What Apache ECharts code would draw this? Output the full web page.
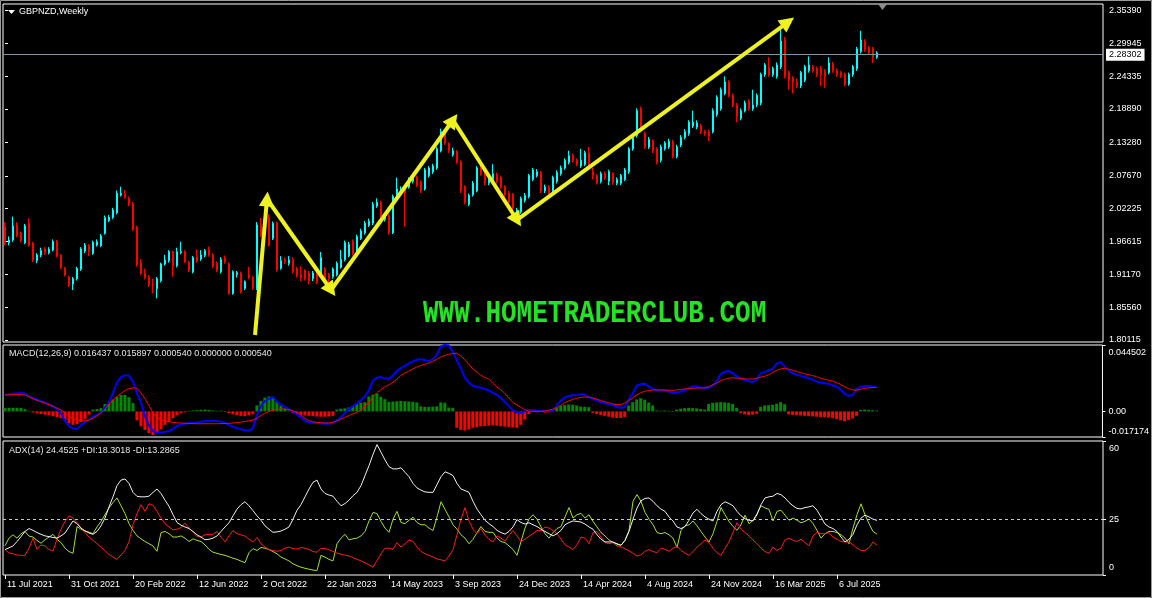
<!DOCTYPE html>
<html><head><meta charset="utf-8">
<script src="https://cdn.jsdelivr.net/npm/echarts@6/dist/echarts.min.js"></script>
<style>html,body{margin:0;padding:0;background:#000;}#c{width:1152px;height:598px;}</style>
</head><body><div id="c"></div>
<script>
const symbolName = 'GBPNZD,Weekly';
const startDate = '2021-07-11';
const futureSlots = 56;

const opens = [
1.9914,1.9645,1.9690,1.9942,1.9802,1.9645,1.9970,1.9634,1.9343,1.9438,
1.9539,1.9477,1.9522,1.9673,1.9438,1.9214,1.9063,1.8951,1.9041,1.9198,
1.9505,1.9589,1.9466,1.9606,1.9595,1.9802,2.0014,2.0070,2.0149,2.0445,
2.0462,2.0389,2.0294,1.9903,1.9298,1.9131,1.9063,1.8951,1.8873,1.9007,
1.9287,1.9343,1.9489,1.9259,1.9477,1.9494,1.9309,1.9158,1.9410,1.9371,
1.9432,1.9522,1.9438,1.9298,1.9158,1.9382,1.9287,1.8795,1.9114,1.9131,
1.8879,1.9102,1.9058,1.8879,1.9931,1.9774,2.0076,1.9718,1.9970,1.9214,
1.9354,1.9298,1.9365,1.9214,1.9110,1.9170,1.9138,1.9042,1.9138,1.9106,
1.9202,1.9106,1.9074,1.9106,1.9234,1.9362,1.9426,1.9669,1.9490,1.9714,
1.9810,1.9938,1.9971,2.0259,2.0323,2.0035,2.0099,1.9810,2.0419,2.0483,
2.0547,2.0579,2.0675,2.0739,2.0656,2.0547,2.0771,2.0835,2.0899,2.1188,
2.1476,2.1297,2.1124,2.1169,2.0996,2.0579,2.0291,2.0451,2.0515,2.0899,
2.0835,2.0643,2.0707,2.0783,2.0739,2.0579,2.0483,2.0451,2.0131,2.0163,
2.0355,2.0419,2.0707,2.0771,2.0822,2.0515,2.0579,2.0515,2.0675,2.0803,
2.0899,2.0996,2.1105,2.1028,2.0931,2.0963,2.1156,2.0835,2.0771,2.0675,
2.0803,2.0675,2.0803,2.0643,2.0643,2.0707,2.0835,2.1220,2.1444,2.1893,
2.1476,2.1252,2.1348,2.1220,2.1028,2.1220,2.1252,2.1335,2.1092,2.1284,
2.1412,2.1476,2.1604,2.1585,2.1604,2.1508,2.1508,2.1508,2.1797,2.1893,
2.2149,2.2341,2.2117,2.1957,2.1733,2.1861,2.2021,2.1893,2.1957,2.1989,
2.2469,2.2578,2.2469,2.2437,2.2597,2.3046,2.2501,2.2405,2.2341,2.2277,
2.2373,2.2533,2.2597,2.2565,2.2578,2.2533,2.2501,2.2642,2.2533,2.2501,
2.2469,2.2309,2.2469,2.2565,2.2854,2.3027,2.2918,2.2899,2.2758];

const closes = [
1.9634,1.9690,1.9925,1.9774,1.9690,1.9925,1.9606,1.9354,1.9438,1.9511,
1.9477,1.9533,1.9662,1.9421,1.9231,1.9102,1.8935,1.9041,1.9214,1.9539,
1.9606,1.9494,1.9651,1.9662,1.9757,2.0065,2.0070,2.0194,2.0473,2.0473,
2.0406,2.0294,1.9869,1.9270,1.9131,1.9058,1.8935,1.8935,1.9041,1.9287,
1.9354,1.9494,1.9253,1.9494,1.9494,1.9326,1.9186,1.9393,1.9337,1.9438,
1.9511,1.9438,1.9253,1.9186,1.9365,1.9326,1.8795,1.9158,1.9142,1.8823,
1.8991,1.9058,1.8879,1.9942,1.9774,2.0076,1.9606,1.9970,1.9186,1.9343,
1.9326,1.9354,1.9158,1.9091,1.9060,1.9042,1.9010,1.9138,1.8978,1.9394,
1.9010,1.9042,1.9202,1.9298,1.9362,1.9650,1.9618,1.9458,1.9746,1.9842,
1.9971,2.0003,2.0291,2.0323,2.0035,2.0099,1.9810,2.0419,2.0547,2.0547,
2.0483,2.0707,2.0739,2.0611,2.0515,2.0867,2.0899,2.0931,2.1220,2.1508,
2.1316,2.1188,2.1188,2.0996,2.0515,2.0323,2.0438,2.0643,2.0899,2.0803,
2.0643,2.0739,2.0803,2.0675,2.0579,2.0451,2.0323,2.0227,2.0195,2.0387,
2.0438,2.0771,2.0867,2.0835,2.0515,2.0579,2.0451,2.0739,2.0822,2.0899,
2.1028,2.1105,2.1028,2.0963,2.1028,2.1156,2.0931,2.0771,2.0656,2.0803,
2.0739,2.0835,2.0656,2.0707,2.0771,2.0867,2.1220,2.1412,2.1861,2.1540,
2.1252,2.1380,2.1188,2.0996,2.1252,2.1316,2.1348,2.1092,2.1252,2.1412,
2.1508,2.1668,2.1668,2.1655,2.1508,2.1476,2.1425,2.1861,2.2085,2.2213,
2.2341,2.2117,2.1957,2.1765,2.1861,2.1989,2.1893,2.1957,2.2117,2.2469,
2.2629,2.2469,2.2565,2.2629,2.3027,2.2437,2.2373,2.2341,2.2277,2.2501,
2.2597,2.2629,2.2533,2.2469,2.2469,2.2437,2.2661,2.2533,2.2469,2.2450,
2.2309,2.2469,2.2597,2.2899,2.3046,2.2886,2.2834,2.2758,2.28302];

const lows = [
1.9600,1.9600,1.9660,1.9740,1.9650,1.9620,1.9580,1.9320,1.9300,1.9400,
1.9440,1.9450,1.9500,1.9400,1.9200,1.9080,1.8900,1.8851,1.9010,1.9170,
1.9470,1.9420,1.9440,1.9580,1.9570,1.9780,1.9990,2.0040,2.0120,2.0420,
2.0380,2.0260,1.9840,1.9240,1.9100,1.9030,1.8900,1.8795,1.8711,1.8980,
1.9260,1.9310,1.9074,1.9230,1.9450,1.9300,1.9150,1.9130,1.9310,1.9340,
1.9400,1.9410,1.9220,1.9150,1.9130,1.9290,1.8770,1.8770,1.9060,1.8790,
1.8850,1.9030,1.8850,1.8850,1.9740,1.9750,1.9580,1.9690,1.9160,1.9190,
1.9290,1.9260,1.9130,1.9060,1.9000,1.9010,1.8946,1.9000,1.8950,1.9080,
1.8980,1.8946,1.9040,1.9080,1.9210,1.9330,1.9400,1.9430,1.9460,1.9690,
1.9780,1.9910,1.9940,2.0230,2.0000,2.0000,1.9780,1.9790,2.0390,2.0450,
1.9907,2.0550,2.0640,2.0580,2.0480,2.0520,2.0740,2.0800,2.0870,2.1160,
2.1290,2.1150,2.1090,2.0970,2.0480,2.0290,2.0260,2.0420,2.0490,2.0770,
2.0610,2.0610,2.0680,2.0640,2.0550,2.0420,2.0290,2.0190,2.0067,2.0130,
2.0320,2.0390,2.0680,2.0740,2.0480,2.0480,2.0420,2.0480,2.0640,2.0770,
2.0870,2.0960,2.0990,2.0930,2.0900,2.0930,2.0900,2.0707,2.0620,2.0640,
2.0700,2.0611,2.0620,2.0610,2.0610,2.0680,2.0800,2.1190,2.1410,2.1510,
2.1220,2.1220,2.1150,2.0960,2.0990,2.1190,2.1220,2.1060,2.1060,2.1250,
2.1380,2.1440,2.1570,2.1550,2.1470,2.1440,2.1348,2.1480,2.1760,2.1860,
2.2120,2.2090,2.1920,2.1668,2.1700,2.1830,2.1860,2.1860,2.1920,2.1950,
2.2430,2.2430,2.2430,2.2400,2.2560,2.2400,2.2213,2.2149,2.2240,2.2240,
2.2340,2.2500,2.2500,2.2430,2.2277,2.2245,2.2470,2.2500,2.2430,2.2410,
2.2270,2.2280,2.2430,2.2530,2.2820,2.2850,2.2800,2.2661,2.2730];

const highs = [
1.9990,1.9750,2.0082,1.9990,1.9830,1.9960,2.0054,1.9660,1.9470,1.9560,
1.9570,1.9570,1.9700,1.9690,1.9450,1.9240,1.9090,1.9070,1.9240,1.9570,
1.9640,1.9620,1.9680,1.9700,1.9790,2.0100,2.0110,2.0230,2.0520,2.0585,
2.0530,2.0420,2.0330,1.9930,1.9370,1.9210,1.9100,1.9040,1.9070,1.9310,
1.9440,1.9520,1.9510,1.9560,1.9662,1.9520,1.9340,1.9420,1.9530,1.9520,
1.9540,1.9580,1.9470,1.9330,1.9400,1.9430,1.9310,1.9180,1.9170,1.9160,
1.9010,1.9240,1.9090,1.9990,2.0060,2.0194,2.0120,2.0000,2.0000,1.9420,
1.9400,1.9420,1.9400,1.9240,1.9250,1.9200,1.9170,1.9170,1.9160,1.9490,
1.9230,1.9140,1.9230,1.9330,1.9522,1.9680,1.9660,1.9700,1.9780,1.9880,
2.0010,2.0050,2.0330,2.0387,2.0350,2.0140,2.0130,2.0450,2.0739,2.0590,
2.0580,2.0740,2.0780,2.0770,2.0690,2.0900,2.0930,2.0970,2.1250,2.1560,
2.1510,2.1330,2.1240,2.1200,2.1030,2.0610,2.0470,2.0680,2.0930,2.0940,
2.0870,2.0780,2.0963,2.0820,2.0770,2.0610,2.0510,2.0480,2.0230,2.0420,
2.0480,2.0800,2.0900,2.0880,2.0850,2.0620,2.0610,2.0770,2.0860,2.0940,
2.1060,2.1188,2.1140,2.1060,2.1220,2.1190,2.1252,2.0899,2.0800,2.0840,
2.0840,2.0870,2.0830,2.0740,2.0800,2.0900,2.1250,2.1450,2.1900,2.1930,
2.1510,2.1420,2.1380,2.1250,2.1290,2.1350,2.1390,2.1370,2.1290,2.1450,
2.1550,2.1700,2.1861,2.1700,2.1640,2.1540,2.1540,2.1900,2.2120,2.2250,
2.2437,2.2370,2.2150,2.1990,2.1900,2.2030,2.2050,2.2213,2.2150,2.2500,
2.2660,2.2758,2.2600,2.2670,2.3250,2.3100,2.2530,2.2440,2.2400,2.2530,
2.2630,2.2770,2.2630,2.2600,2.2610,2.2560,2.2758,2.2680,2.2570,2.2530,
2.2500,2.2500,2.2630,2.2930,2.3200,2.3060,2.2950,2.2930,2.2860];

const macdLine = [
0.0110,0.0115,0.0120,0.0122,0.0123,0.0120,0.0100,0.0088,0.0078,0.0068,
0.0058,0.0046,0.0032,0.0015,-0.0015,-0.0065,-0.0098,-0.0115,-0.0118,-0.0092,
-0.0072,-0.0055,-0.0037,-0.0022,-0.0008,0.0025,0.0062,0.0125,0.0195,0.0230,
0.0243,0.0238,0.0200,0.0120,0.0060,-0.0030,-0.0095,-0.0132,-0.0143,-0.0142,
-0.0138,-0.0131,-0.0118,-0.0098,-0.0088,-0.0082,-0.0080,-0.0078,-0.0074,-0.0070,
-0.0066,-0.0063,-0.0062,-0.0064,-0.0070,-0.0078,-0.0090,-0.0102,-0.0112,-0.0120,
-0.0126,-0.0130,-0.0112,-0.0025,0.0035,0.0068,0.0085,0.0096,0.0065,0.0045,
0.0030,0.0015,0.0000,-0.0020,-0.0040,-0.0062,-0.0076,-0.0078,-0.0078,-0.0080,
-0.0082,-0.0083,-0.0075,-0.0060,-0.0040,-0.0010,0.0015,0.0035,0.0052,0.0075,
0.0100,0.0140,0.0205,0.0225,0.0230,0.0220,0.0218,0.0240,0.0270,0.0290,
0.0305,0.0322,0.0335,0.0347,0.0350,0.0345,0.0337,0.0350,0.0380,0.0435,
0.0445,0.0441,0.0400,0.0340,0.0290,0.0225,0.0192,0.0172,0.0163,0.0158,
0.0150,0.0140,0.0124,0.0110,0.0090,0.0065,0.0035,0.0008,-0.0008,-0.0010,
0.0000,0.0008,0.0008,0.0005,0.0003,0.0002,0.0002,0.0005,0.0040,0.0072,
0.0093,0.0103,0.0108,0.0110,0.0115,0.0112,0.0096,0.0085,0.0073,0.0062,
0.0055,0.0048,0.0043,0.0028,0.0024,0.0028,0.0080,0.0120,0.0172,0.0182,
0.0185,0.0168,0.0150,0.0140,0.0140,0.0142,0.0133,0.0123,0.0125,0.0133,
0.0140,0.0155,0.0168,0.0165,0.0160,0.0157,0.0160,0.0175,0.0200,0.0250,
0.0265,0.0270,0.0255,0.0235,0.0222,0.0210,0.0203,0.0195,0.0215,0.0255,
0.0265,0.0275,0.0285,0.0320,0.0330,0.0300,0.0275,0.0255,0.0245,0.0238,
0.0230,0.0222,0.0212,0.0200,0.0192,0.0188,0.0183,0.0176,0.0165,0.0145,
0.0118,0.0104,0.0110,0.0150,0.0165,0.0168,0.0170,0.0167,0.016437];

const signalLine = [
0.0110,0.0111,0.0112,0.0113,0.0112,0.0110,0.0098,0.0085,0.0074,0.0064,
0.0055,0.0045,0.0035,0.0022,0.0010,-0.0010,-0.0032,-0.0050,-0.0058,-0.0063,
-0.0064,-0.0058,-0.0045,-0.0030,-0.0010,0.0015,0.0050,0.0075,0.0100,0.0120,
0.0140,0.0152,0.0158,0.0155,0.0125,0.0085,0.0040,-0.0010,-0.0040,-0.0055,
-0.0064,-0.0070,-0.0074,-0.0077,-0.0078,-0.0080,-0.0081,-0.0082,-0.0083,-0.0083,
-0.0083,-0.0083,-0.0083,-0.0083,-0.0082,-0.0081,-0.0080,-0.0078,-0.0075,-0.0072,
-0.0068,-0.0064,-0.0058,-0.0045,-0.0028,-0.0012,0.0000,0.0008,0.0014,0.0016,
0.0016,0.0012,0.0004,-0.0008,-0.0025,-0.0045,-0.0062,-0.0070,-0.0074,-0.0076,
-0.0078,-0.0078,-0.0074,-0.0064,-0.0052,-0.0040,-0.0028,-0.0016,-0.0008,0.0010,
0.0035,0.0060,0.0095,0.0125,0.0145,0.0165,0.0178,0.0195,0.0215,0.0240,
0.0258,0.0270,0.0285,0.0298,0.0308,0.0316,0.0324,0.0336,0.0350,0.0364,
0.0375,0.0383,0.0388,0.0390,0.0372,0.0345,0.0315,0.0285,0.0265,0.0243,
0.0228,0.0217,0.0190,0.0165,0.0145,0.0120,0.0090,0.0060,0.0043,0.0028,
0.0012,0.0002,0.0000,0.0000,0.0000,0.0002,0.0008,0.0014,0.0025,0.0040,
0.0058,0.0070,0.0080,0.0088,0.0093,0.0096,0.0096,0.0090,0.0082,0.0072,
0.0065,0.0058,0.0050,0.0045,0.0045,0.0055,0.0072,0.0090,0.0110,0.0125,
0.0135,0.0140,0.0143,0.0144,0.0144,0.0143,0.0142,0.0141,0.0143,0.0147,
0.0150,0.0152,0.0155,0.0156,0.0157,0.0158,0.0165,0.0178,0.0190,0.0205,
0.0215,0.0222,0.0225,0.0223,0.0220,0.0218,0.0217,0.0217,0.0222,0.0230,
0.0235,0.0245,0.0260,0.0275,0.0285,0.0289,0.0283,0.0275,0.0268,0.0260,
0.0252,0.0246,0.0240,0.0232,0.0223,0.0215,0.0208,0.0203,0.0193,0.0180,
0.0165,0.0152,0.0144,0.0142,0.0148,0.0154,0.0158,0.0160,0.015897];

const macdHist = [
0.0022,0.0024,0.0024,0.0024,0.0023,0.0015,0.0004,-0.0008,-0.0012,-0.0018,
-0.0022,-0.0026,-0.0032,-0.0037,-0.0045,-0.0060,-0.0080,-0.0090,-0.0086,-0.0070,
-0.0050,-0.0022,0.0012,0.0016,0.0022,0.0050,0.0060,0.0080,0.0098,0.0110,
0.0110,0.0095,0.0055,-0.0060,-0.0100,-0.0125,-0.0145,-0.0158,-0.0145,-0.0120,
-0.0090,-0.0070,-0.0045,-0.0025,-0.0012,-0.0006,0.0004,0.0006,0.0008,0.0010,
0.0012,0.0010,0.0006,0.0004,0.0005,-0.0004,-0.0012,-0.0020,-0.0026,-0.0030,
-0.0032,-0.0026,-0.0018,0.0040,0.0070,0.0092,0.0100,0.0098,0.0070,0.0040,
0.0020,0.0006,-0.0010,-0.0016,-0.0022,-0.0028,-0.0030,-0.0032,-0.0034,-0.0036,
-0.0036,-0.0034,-0.0030,0.0012,0.0018,0.0020,0.0026,0.0034,0.0052,0.0058,
0.0062,0.0100,0.0112,0.0120,0.0098,0.0082,0.0064,0.0066,0.0068,0.0070,
0.0068,0.0066,0.0064,0.0060,0.0034,0.0030,0.0030,0.0032,0.0034,0.0060,
0.0058,0.0026,0.0024,-0.0110,-0.0125,-0.0128,-0.0122,-0.0110,-0.0106,-0.0100,
-0.0098,-0.0096,-0.0094,-0.0096,-0.0100,-0.0102,-0.0104,-0.0108,-0.0110,-0.0090,
-0.0055,-0.0018,0.0010,-0.0006,0.0004,-0.0008,-0.0006,0.0012,0.0030,0.0038,
0.0042,0.0046,0.0044,0.0040,0.0032,0.0030,0.0028,-0.0010,-0.0018,-0.0024,
-0.0030,-0.0036,-0.0042,-0.0045,-0.0044,-0.0038,0.0040,0.0062,0.0080,0.0088,
0.0078,0.0060,0.0040,0.0006,0.0004,0.0006,0.0004,-0.0004,0.0012,0.0018,
0.0022,0.0024,0.0022,0.0020,0.0016,0.0012,0.0050,0.0058,0.0060,0.0062,
0.0060,0.0058,0.0050,0.0024,-0.0012,-0.0020,-0.0024,-0.0022,-0.0016,0.0030,
0.0040,0.0042,0.0045,0.0052,0.0062,0.0048,-0.0020,-0.0024,-0.0026,-0.0028,
-0.0030,-0.0032,-0.0034,-0.0036,-0.0038,-0.0040,-0.0042,-0.0046,-0.0052,-0.0060,
-0.0066,-0.0058,-0.0048,-0.0030,0.0010,0.0012,0.0010,0.0008,0.00054];

const adxLine = [
11.4,12.2,13.0,15.0,17.2,19.5,20.8,20.0,19.0,18.2,
17.5,17.2,16.8,16.5,17.5,18.8,21.5,24.2,23.0,21.0,
19.8,18.8,18.2,19.5,22.0,25.5,30.5,35.0,40.0,42.5,
43.0,41.0,37.0,35.2,35.0,35.0,35.3,37.0,38.5,36.5,
33.5,30.8,27.0,23.5,22.3,21.5,20.8,19.5,18.0,17.0,
15.8,16.0,16.5,17.5,19.5,21.5,23.4,26.5,29.5,31.5,
32.8,31.0,28.8,26.5,24.5,22.0,20.5,19.1,19.3,19.7,
20.5,21.5,25.0,29.0,31.5,35.0,38.5,41.5,42.5,38.5,
36.5,35.8,35.3,33.0,31.0,32.0,33.5,35.5,37.0,40.0,
44.5,49.0,54.0,58.4,55.0,51.5,48.5,47.5,47.5,48.0,
46.0,44.0,41.0,39.0,38.0,37.2,37.0,37.0,40.5,44.0,
46.2,45.5,44.5,41.0,38.5,37.8,37.0,33.0,29.5,27.0,
24.5,23.0,21.7,20.0,19.0,18.3,19.5,21.5,24.8,23.5,
22.8,23.4,22.5,21.7,20.5,19.5,18.5,17.5,18.5,20.0,
22.5,23.5,24.2,24.0,23.7,22.8,21.5,20.5,18.0,16.0,
14.8,14.8,14.8,14.0,13.3,15.5,19.5,25.0,30.0,33.2,
34.3,34.5,33.0,31.0,29.5,28.5,26.0,24.2,21.5,20.8,
21.7,24.5,27.8,29.4,27.5,26.0,25.0,24.2,28.5,31.5,
32.8,32.0,31.0,28.5,26.5,25.2,24.5,24.2,27.0,31.5,
34.5,35.0,35.3,36.5,36.0,34.5,32.5,31.0,29.8,29.6,
30.2,30.5,31.0,29.0,26.0,22.8,21.5,20.8,19.5,17.0,
14.8,16.0,18.2,22.5,25.5,26.8,26.0,25.0,24.4525];

const plusDI = [
13.1,16.5,18.0,16.5,18.5,19.5,17.4,17.0,15.5,14.2,
15.8,17.0,18.2,16.0,14.5,12.0,10.5,9.7,21.7,20.5,
19.6,19.2,18.5,21.5,24.0,27.0,30.0,32.5,34.5,31.0,
27.5,23.0,20.0,17.5,16.2,15.0,14.0,13.0,10.6,19.0,
19.5,18.5,17.0,17.0,17.5,16.5,15.0,16.2,15.5,15.0,
13.5,11.5,10.2,9.7,9.2,8.8,8.2,7.5,7.0,6.2,
5.5,10.0,11.8,11.0,12.3,12.0,11.4,10.5,9.5,8.0,
7.2,6.3,5.0,4.2,3.5,3.0,2.6,2.2,2.0,8.8,
8.0,7.0,6.3,14.0,16.5,18.2,15.7,16.2,16.5,17.5,
19.5,24.2,28.0,27.5,24.0,21.0,19.1,25.0,28.5,23.5,
23.0,24.5,25.9,23.5,22.5,22.5,21.0,19.9,26.0,32.8,
29.4,26.0,22.5,20.5,18.0,16.5,14.0,16.0,19.0,21.7,
19.5,19.1,19.1,16.5,15.0,14.5,13.0,11.4,8.8,15.0,
21.0,25.1,27.0,25.0,21.5,18.5,16.5,19.0,20.8,21.7,
26.0,30.2,25.5,27.0,27.6,25.5,27.0,24.0,21.5,19.0,
17.5,15.7,14.5,13.8,13.3,15.5,19.9,33.0,36.0,33.0,
28.0,25.0,22.5,19.0,18.5,19.0,18.0,16.5,12.3,20.0,
22.0,22.5,24.2,22.0,19.5,17.0,14.8,18.5,24.0,30.2,
27.0,24.0,21.7,20.0,22.5,26.8,23.0,24.5,27.5,31.0,
30.0,29.4,24.2,28.5,29.0,26.8,24.5,25.5,24.5,23.4,
24.0,25.1,23.0,20.0,16.5,18.5,19.5,19.5,19.0,18.0,
16.5,14.0,21.0,27.0,31.9,27.0,23.0,19.5,18.3018];

const minusDI = [
11.4,9.9,9.5,9.0,8.8,8.8,12.0,16.5,11.4,13.5,
13.0,11.4,10.8,16.0,20.5,24.0,26.5,25.5,23.5,21.0,
19.0,17.0,15.5,14.0,12.5,10.8,9.2,8.0,7.0,9.0,
11.0,15.0,22.5,27.5,31.5,28.5,31.9,31.2,28.5,25.5,
23.0,21.5,20.2,20.5,21.2,23.2,21.0,19.2,17.2,17.0,
18.0,18.2,18.2,19.5,17.0,14.8,17.5,19.9,18.5,18.0,
17.4,16.0,14.8,16.8,14.0,12.5,11.4,11.0,10.6,11.0,
12.0,12.5,11.8,11.6,12.3,12.0,11.4,10.5,10.2,12.0,
11.8,11.4,10.5,9.8,9.3,8.9,8.5,7.8,7.0,6.3,
5.5,4.5,3.5,6.5,9.5,12.0,12.0,11.5,14.5,12.5,
14.0,15.7,15.0,12.5,10.5,9.5,8.8,8.0,7.2,6.8,
6.3,8.5,11.4,18.0,25.0,30.2,24.2,20.5,18.5,20.8,
17.8,16.0,14.8,17.5,16.5,15.2,17.8,19.9,17.5,15.0,
16.0,17.4,18.5,19.9,19.9,21.5,21.0,19.9,18.5,16.0,
13.5,12.5,11.4,13.5,17.0,16.5,14.0,19.0,19.5,17.0,
14.5,14.0,14.5,13.0,12.5,11.8,10.8,9.7,8.5,9.0,
10.6,11.4,10.5,10.0,12.0,11.5,10.6,12.0,12.8,11.0,
9.8,8.8,10.5,12.5,14.0,15.7,14.5,12.0,10.0,8.8,
12.0,14.8,19.0,23.4,20.5,19.0,17.5,15.7,14.0,12.0,
10.5,9.7,12.5,11.0,12.0,15.7,16.5,15.5,15.0,16.0,
14.5,13.1,17.5,19.1,18.5,18.5,19.0,17.0,16.0,15.0,
14.8,14.8,13.5,12.0,11.0,11.0,12.3,14.8,13.2865];

const priceTicks = [2.35390,2.29945,2.24335,2.18890,2.13280,2.07670,2.02225,1.96615,1.91170,1.85560,1.80115];
const macdTicks = [0.044502, 0, -0.017174];
const adxTicks = [60, 25, 0];
const adxLevel = 25;
const bidPrice = 2.28302;
const arrowIdx = [62.5, 65.5, 81.5, 112, 128, 195.75];
const arrowPrice = [1.8095, 2.0378, 1.8851, 2.1704, 2.0026, 2.3349];
const macdCaption = 'MACD(12,26,9) 0.016437 0.015897 0.000540 0.000000 0.000540';
const adxCaption = 'ADX(14) 24.4525 +DI:18.3018 -DI:13.2865';
const watermark = 'WWW.HOMETRADERCLUB.COM';

const FONT = '"Liberation Sans", Arial, sans-serif';
const MONTHS = ['Jan','Feb','Mar','Apr','May','Jun','Jul','Aug','Sep','Oct','Nov','Dec'];
const N = closes.length;
const cats = [];
const d0 = Date.parse(startDate + 'T00:00:00Z');
for (let k = 0; k < N + futureSlots; k++) {
  const d = new Date(d0 + k * 7 * 86400000);
  cats.push(d.getUTCDate() + ' ' + MONTHS[d.getUTCMonth()] + ' ' + d.getUTCFullYear());
}
const candles = opens.map((o, k) => [o, closes[k], lows[k], highs[k]]);
const arrowPts = arrowIdx.map((x, k) => [x, arrowPrice[k]]);
const arrowSegs = [];
for (let k = 0; k < arrowPts.length - 1; k++) arrowSegs.push([{coord: arrowPts[k]}, {coord: arrowPts[k + 1]}]);
const showIdx = (idx) => idx % 16 === 0 && idx < N;

const gridBase = {left: 3, right: 49, show: true, borderColor: '#ffffff', borderWidth: 1, containLabel: false};
const hiddenCat = (g) => ({gridIndex: g, type: 'category', data: cats, boundaryGap: true,
  axisLine: {show: false}, axisTick: {show: false}, axisLabel: {show: false}, splitLine: {show: false}});
const lbl = {color: '#ffffff', fontSize: 9, fontFamily: FONT};

const chart = echarts.init(document.getElementById('c'), null, {renderer: 'canvas'});
chart.setOption({
  backgroundColor: '#000000',
  animation: false,
  title: [
    {text: symbolName, left: 19, top: 7, padding: 0, textStyle: {color: '#ffffff', fontSize: 9, fontWeight: 'normal', fontFamily: FONT}},
    {text: macdCaption, left: 9, top: 349, padding: 0, textStyle: {color: '#e6e6e6', fontSize: 9, fontWeight: 'normal', fontFamily: FONT}},
    {text: adxCaption, left: 9, top: 446, padding: 0, textStyle: {color: '#e6e6e6', fontSize: 9, fontWeight: 'normal', fontFamily: FONT}}
  ],
  grid: [
    Object.assign({top: 4, height: 338}, gridBase),
    Object.assign({top: 345, height: 92}, gridBase),
    Object.assign({top: 441, height: 134}, gridBase)
  ],
  xAxis: [
    hiddenCat(0),
    hiddenCat(1),
    {gridIndex: 2, type: 'category', data: cats, boundaryGap: true,
     axisLine: {show: false}, splitLine: {show: false},
     axisTick: {show: true, alignWithLabel: true, interval: showIdx, length: 4, lineStyle: {color: '#ffffff'}},
     axisLabel: Object.assign({show: true, interval: showIdx, align: 'left', margin: 5, padding: [0, 0, 0, 2]}, lbl)},
    {gridIndex: 0, type: 'value', min: -0.5, max: N + futureSlots - 0.5, show: false}
  ],
  yAxis: [
    {gridIndex: 0, type: 'value', position: 'right', min: 1.79779, max: 2.36515,
     splitLine: {show: false}, axisLine: {show: false},
     axisTick: {show: true, length: 3, customValues: priceTicks, lineStyle: {color: '#ffffff'}},
     axisLabel: Object.assign({customValues: priceTicks, margin: 6, formatter: v => v.toFixed(5)}, lbl)},
    {gridIndex: 1, type: 'value', position: 'right', min: macdTicks[2], max: macdTicks[0],
     splitLine: {show: false}, axisLine: {show: false},
     axisTick: {show: true, length: 3, customValues: macdTicks, lineStyle: {color: '#ffffff'}},
     axisLabel: Object.assign({customValues: macdTicks, margin: 6,
       formatter: v => Math.abs(v - macdTicks[0]) < 1e-9 ? '{t|' + macdTicks[0].toFixed(6) + '}' :
                       (Math.abs(v - macdTicks[2]) < 1e-9 ? '{b|' + macdTicks[2].toFixed(6) + '}' : '0.00'),
       rich: {t: Object.assign({padding: [16, 0, 0, 0]}, lbl), b: Object.assign({padding: [0, 0, 10, 0]}, lbl)}}, lbl)},
    {gridIndex: 2, type: 'value', position: 'right', min: 0, max: 60,
     splitLine: {show: false}, axisLine: {show: false},
     axisTick: {show: true, length: 3, customValues: adxTicks, lineStyle: {color: '#ffffff'}},
     axisLabel: Object.assign({customValues: adxTicks, margin: 6,
       formatter: v => v === 60 ? '{t|60}' : (v === 0 ? '{b|0}' : String(v)),
       rich: {t: Object.assign({padding: [16, 0, 0, 0]}, lbl), b: Object.assign({padding: [0, 0, 14, 0]}, lbl)}}, lbl)}
  ],
  graphic: [
    {type: 'rect', shape: {x: 0.5, y: 0.5, width: 1151, height: 597}, style: {fill: 'none', stroke: '#9a9a9a', lineWidth: 1}, silent: true},
    {type: 'polygon', shape: {points: [[8, 10], [15, 10], [11.5, 14]]}, style: {fill: '#ffffff'}, silent: true},
    {type: 'polygon', shape: {points: [[878, 4], [887, 4], [882.5, 10]]}, style: {fill: '#8c8c8c'}, silent: true},
    {type: 'text', x: 423, y: 298, scaleY: 1.22, z: 1,
     style: {text: watermark, fill: '#22e422', font: 'bold 26px "Liberation Mono", "DejaVu Sans Mono", monospace',
             shadowBlur: 6, shadowColor: 'rgba(40,255,40,0.65)'}, silent: true}
  ],
  series: [
    {type: 'candlestick', name: 'GBPNZD', xAxisIndex: 0, yAxisIndex: 0, data: candles, barWidth: 2,
     itemStyle: {color: '#00ffff', color0: '#ff0000', borderColor: '#00ffff', borderColor0: '#ff0000', borderWidth: 1},
     markLine: {silent: true, symbol: 'none', animation: false,
       lineStyle: {color: '#8494a6', width: 1, type: 'solid'},
       label: {show: true, position: 'end', distance: 3, formatter: bidPrice.toFixed(5), color: '#000000',
               backgroundColor: '#ffffff', padding: [2, 3, 1, 3], fontSize: 9, fontFamily: FONT},
       data: [{yAxis: bidPrice}]}},
    {type: 'line', name: 'arrows', xAxisIndex: 3, yAxisIndex: 0, data: arrowPts, symbol: 'none',
     lineStyle: {opacity: 0}, z: 6, silent: true,
     markLine: {silent: true, animation: false, symbol: ['none', 'triangle'], symbolSize: 15,
       lineStyle: {color: '#eef21e', width: 4, type: 'solid', opacity: 1},
       label: {show: false}, emphasis: {disabled: true}, data: arrowSegs}},
    {type: 'bar', name: 'hist', xAxisIndex: 1, yAxisIndex: 1, data: macdHist, barWidth: 3,
     itemStyle: {color: p => p.value >= 0 ? '#008a00' : '#ff0000'}},
    {type: 'line', name: 'macd', xAxisIndex: 1, yAxisIndex: 1, data: macdLine, symbol: 'none',
     lineStyle: {color: '#0000ff', width: 2}, z: 4},
    {type: 'line', name: 'signal', xAxisIndex: 1, yAxisIndex: 1, data: signalLine, symbol: 'none',
     lineStyle: {color: '#ff0000', width: 1}, z: 5},
    {type: 'line', name: 'ADX', xAxisIndex: 2, yAxisIndex: 2, data: adxLine, symbol: 'none',
     lineStyle: {color: '#f0f0f0', width: 1}, z: 4,
     markLine: {silent: true, symbol: 'none', animation: false, label: {show: false},
       lineStyle: {color: '#c8c8c8', width: 1, type: [3, 3]}, data: [{yAxis: adxLevel}]}},
    {type: 'line', name: '+DI', xAxisIndex: 2, yAxisIndex: 2, data: plusDI, symbol: 'none',
     lineStyle: {color: '#a4e02c', width: 1}, z: 3},
    {type: 'line', name: '-DI', xAxisIndex: 2, yAxisIndex: 2, data: minusDI, symbol: 'none',
     lineStyle: {color: '#ff1a1a', width: 1}, z: 3}
  ]
});
</script></body></html>
